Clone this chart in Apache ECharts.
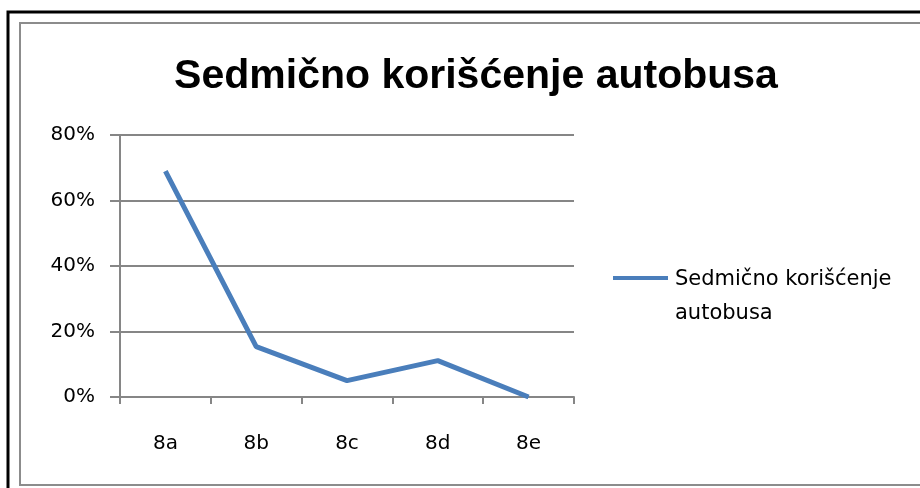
<!DOCTYPE html>
<html>
<head>
<meta charset="utf-8">
<script src="https://cdn.jsdelivr.net/npm/echarts@6/dist/echarts.min.js"></script>
<style>
html,body{margin:0;padding:0;background:#fff;}
#main{width:920px;height:488px;}
</style>
</head>
<body>
<div id="main"></div>
<script>
// podaci
var categories = ['8a', '8b', '8c', '8d', '8e'];
var values = [0.69, 0.154, 0.05, 0.111, 0];
var seriesName = 'Sedmično korišćenje autobusa';
var titleText = 'Sedmično korišćenje autobusa';

var font = 'DejaVu Sans, sans-serif';
var titleFont = 'Liberation Sans, sans-serif';

var myChart = echarts.init(document.getElementById('main'));
var option = {
    animation: false,
    backgroundColor: '#fff',
    title: {
        text: titleText,
        left: 471,
        top: 51,
        textAlign: 'center',
        textStyle: {
            fontFamily: titleFont,
            fontWeight: 'bold',
            fontSize: 41,
            color: '#000'
        }
    },
    graphic: [
        {
            type: 'rect',
            shape: {x: 8, y: 12, width: 1000, height: 600},
            style: {fill: 'none', stroke: '#000', lineWidth: 3}
        },
        {
            type: 'rect',
            shape: {x: 20, y: 23, width: 1000, height: 462},
            style: {fill: 'none', stroke: '#8c8c8c', lineWidth: 2}
        },
        // legenda
        {
            type: 'line',
            shape: {x1: 613, y1: 278, x2: 668, y2: 278},
            style: {stroke: '#4a7ebb', lineWidth: 4}
        },
        {
            type: 'text',
            left: 675,
            top: 263,
            style: {
                text: 'Sedmično korišćenje\nautobusa',
                font: '21px ' + font,
                fill: '#000',
                lineHeight: 34
            }
        }
    ],
    grid: {
        left: 120,
        right: 346,
        top: 135,
        bottom: 91
    },
    xAxis: {
        type: 'category',
        data: categories,
        boundaryGap: true,
        axisLine: {lineStyle: {color: '#868686', width: 2}},
        axisTick: {show: true, length: 7, lineStyle: {color: '#868686', width: 2}},
        axisLabel: {
            margin: 37,
            fontSize: 20,
            fontFamily: font,
            color: '#000'
        }
    },
    yAxis: {
        type: 'value',
        min: 0,
        max: 0.8,
        interval: 0.2,
        axisLine: {show: true, lineStyle: {color: '#868686', width: 2}},
        axisTick: {show: true, inside: false, length: 10, lineStyle: {color: '#868686', width: 2}},
        splitLine: {lineStyle: {color: '#868686', width: 2}},
        axisLabel: {
            margin: 25,
            fontSize: 20,
            fontFamily: font,
            color: '#000',
            formatter: function (v) {
                return Math.round(v * 100) + '%';
            }
        }
    },
    series: [
        {
            name: seriesName,
            type: 'line',
            data: values,
            symbol: 'none',
            lineStyle: {color: '#4a7ebb', width: 5},
            itemStyle: {color: '#4a7ebb'}
        }
    ]
};
myChart.setOption(option);
</script>
</body>
</html>
